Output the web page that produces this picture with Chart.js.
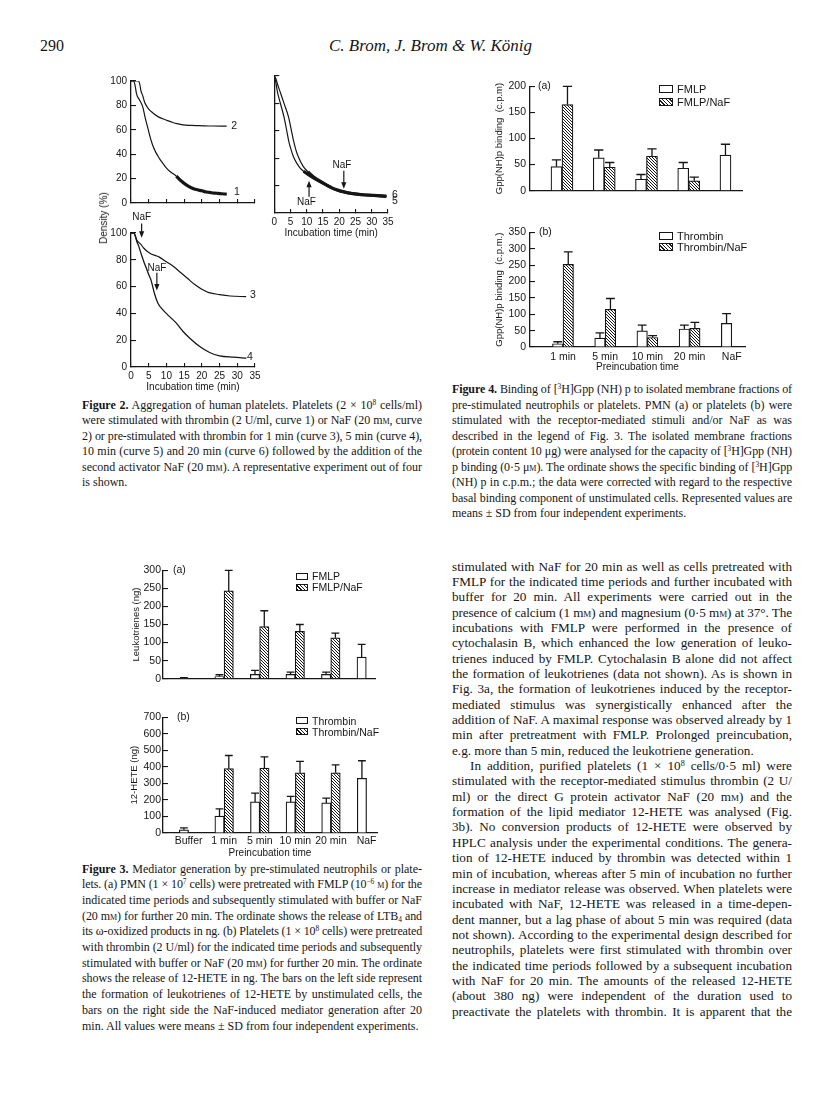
<!DOCTYPE html>
<html lang="en">
<head>
<meta charset="utf-8">
<title>Brom, Brom &amp; König, p. 290</title>
<script src="https://cdn.jsdelivr.net/npm/chart.js@4.4.1/dist/chart.umd.min.js"></script>
<style>
  html, body { margin: 0; padding: 0; background: #fff; }
  body { position: relative; width: 816px; height: 1115px; overflow: hidden; color: #161616;
         font-family: "Liberation Serif", "Times New Roman", serif; }
  canvas { position: absolute; }
  .ln { position: absolute; white-space: nowrap; text-align: justify; text-align-last: justify; }
  .ln.end { text-align-last: left; }
  .cap { font-size: 12px; line-height: 15px; }
  .txt { font-size: 13.2px; line-height: 15px; }
  sup { font-size: 0.62em; line-height: 0; vertical-align: 0.55em; }
  sub { font-size: 0.62em; line-height: 0; vertical-align: -0.25em; }
  .sc { font-variant: small-caps; }
  .lab { position: absolute; white-space: nowrap; line-height: 12px;
         font-family: "Liberation Sans", Arial, sans-serif; }
  .key { position: absolute; box-sizing: border-box; border: 1.2px solid #161616; background: #fff; }
  .key.h { background: repeating-linear-gradient(45deg, #161616 0 1px, #fff 1px 2.6px); }
</style>
</head>
<body>
<script>
"use strict";

// Figure 2 - aggregation traces, time (min) / density (%)
var timeC1 = [0, 0.7, 1.1, 1.6, 2.4, 3.3, 4, 4.7, 5.4, 6.1, 7, 8, 9, 9.9, 11, 12.8, 14.2, 15.6, 17, 18.4, 20, 21.3, 22.7, 24.1, 25.5, 27];
var densC1 = [100, 100, 97, 89, 84.5, 79, 70, 62, 54, 47.5, 41.5, 36.6, 32.5, 29, 25.8, 22, 18, 14.8, 12.5, 11, 10, 9, 8.4, 8, 7.6, 7.3];
var timeC2 = [0, 2.1, 2.5, 2.8, 3.3, 3.8, 4.3, 5, 6.1, 7.5, 9, 10.5, 11.8, 13, 14.7, 17, 19.4, 23, 27];
var densC2 = [100, 100, 97, 92, 88, 83, 80, 77, 74, 71, 69, 67.3, 66, 65, 64, 63.6, 63.4, 63.1, 63];
var timeC3 = [0, 0.8, 1.2, 1.6, 2.2, 2.8, 3.5, 5.2, 8, 10, 12, 14, 16, 18, 20, 22, 25, 28, 32.5];
var densC3 = [100, 100, 98, 95, 93, 91.5, 89, 85, 82, 78.5, 75, 70.5, 66, 61.5, 58, 55.5, 54, 53, 52.5];
var timeC4 = [0, 0.8, 1.2, 1.6, 2.2, 2.8, 3.5, 4.3, 5, 5.7, 6.6, 7.6, 9, 10.9, 12.8, 14.7, 16.6, 19.4, 22.2, 25, 28.9, 32.6];
var densC4 = [100, 100, 98, 94, 90, 85, 79.5, 74, 69, 64.5, 55, 47.6, 42.6, 37.6, 32.7, 26.5, 21.5, 15.3, 10.8, 8.3, 7.3, 6.6];
var timeC5 = [0, 0.5, 1, 2, 3, 4, 4.4, 5, 5.9, 7, 7.9, 9, 9.9, 11.8, 14.8, 18.7, 22.7, 26.6, 30.6, 34.5];
var densC5 = [100, 95, 88, 79, 70, 58, 53, 47.5, 41, 36, 33, 30.5, 29, 26, 22, 17.2, 14.6, 13.4, 12.7, 12.1];
var timeC6 = [0, 0.5, 1, 2, 3, 4.4, 5.2, 5.9, 6.6, 7.4, 8.9, 10.4, 12, 14.8, 18.7, 22.7, 26.6, 30.6, 34.5];
var densC6 = [100, 98, 94, 87, 80, 70, 61, 53, 46.5, 41, 34, 30, 26.5, 22.3, 17.4, 14.8, 13.6, 12.9, 12.4];

// Figure 4 - [3H]Gpp(NH)p binding (c.p.m.)
var fig4Pos = [1, 2, 3, 4, 5];
var fig4Labels = ["1 min", "5 min", "10 min", "20 min", "NaF"];
var fmlpBind = [46, 63, 22, 43, 68], fmlpBindSd = [13, 15, 9, 11, 21];
var fmlpNafBind = [165, 45, 66, 19, null], fmlpNafBindSd = [35, 9, 14, 7, null];
var thrBind = [10, 27, 49, 55, 72], thrBindSd = [6, 16, 18, 12, 30];
var thrNafBind = [252, 115, 29, 57, null], thrNafBindSd = [38, 33, 6, 18, null];

// Figure 3 - leukotrienes / 12-HETE (ng)
var fig3Pos = [0, 1, 2, 3, 4, 5];
var fig3Labels = ["Buffer", "1 min", "5 min", "10 min", "20 min", "NaF"];
var fmlpLt = [2, 6, 12, 12, 12, 60], fmlpLtSd = [1, 5, 11, 6, 6, 35];
var fmlpNafLt = [null, 243, 144, 131, 113, null], fmlpNafLtSd = [null, 57, 44, 19, 13, null];
var thrHete = [19, 102, 188, 188, 182, 331], thrHeteSd = [12, 44, 53, 34, 29, 106];
var thrNafHete = [null, 389, 393, 364, 364, null], thrNafHeteSd = [null, 80, 67, 69, 48, null];

var INK = "#161616";
var SANS = '"Liberation Sans", Arial, sans-serif';

document.addEventListener("DOMContentLoaded", function () {
  Chart.defaults.font.family = SANS;
  Chart.defaults.color = INK;
  Chart.defaults.animation = false;
  Chart.defaults.responsive = false;
  Chart.defaults.plugins.legend.display = false;
  Chart.defaults.plugins.tooltip.enabled = false;

  function pts(xs, ys, t0) {
    var out = [];
    xs.forEach(function (x, i) { if (t0 == null || x >= t0) out.push({ x: x, y: ys[i] }); });
    return out;
  }

  function frame(g) {
    var c = document.createElement("canvas");
    var w = g.x1 - g.x0 + g.padL + g.padR, h = g.yBot - g.yTop + g.padT + g.padB;
    c.width = w; c.height = h;
    c.style.left = (g.x0 - g.padL) + "px";
    c.style.top = (g.yTop - g.padT) + "px";
    document.body.appendChild(c);
    return c.getContext("2d");
  }

  var hp = document.createElement("canvas");
  hp.width = 3; hp.height = 3;
  var hg = hp.getContext("2d");
  hg.fillStyle = "#fff"; hg.fillRect(0, 0, 3, 3);
  hg.strokeStyle = INK; hg.lineWidth = 1;
  hg.beginPath(); hg.moveTo(-1, -1); hg.lineTo(4, 4); hg.stroke();
  var hatch = hg.createPattern(hp, "repeat");

  // in-chart texts and arrows, given in data units
  function notes(items) {
    return {
      id: "notes",
      afterDraw: function (chart) {
        var ctx = chart.ctx, sx = chart.scales.x, sy = chart.scales.y;
        items.forEach(function (n) {
          var x = sx.getPixelForValue(n.x);
          ctx.save();
          ctx.fillStyle = INK; ctx.strokeStyle = INK; ctx.lineWidth = 1.2;
          if (n.text) {
            ctx.font = (n.size || 10.5) + "px " + SANS;
            ctx.textAlign = n.align || "center";
            ctx.textBaseline = "middle";
            ctx.fillText(n.text, x, sy.getPixelForValue(n.y));
          }
          if (n.from != null) {
            var ax = sx.getPixelForValue(n.ax);
            var y1 = sy.getPixelForValue(n.from), y2 = sy.getPixelForValue(n.to), d = y2 > y1 ? 1 : -1;
            ctx.beginPath(); ctx.moveTo(ax, y1); ctx.lineTo(ax, y2 - d * 5); ctx.stroke();
            ctx.beginPath(); ctx.moveTo(ax, y2); ctx.lineTo(ax - 2.6, y2 - d * 6.5); ctx.lineTo(ax + 2.6, y2 - d * 6.5);
            ctx.closePath(); ctx.fill();
          }
          ctx.restore();
        });
      }
    };
  }

  var errBars = {
    id: "errBars",
    afterDatasetsDraw: function (chart) {
      var ctx = chart.ctx, sy = chart.scales.y;
      chart.data.datasets.forEach(function (ds, i) {
        if (!ds.sd) return;
        chart.getDatasetMeta(i).data.forEach(function (bar, j) {
          var v = ds.data[j].y, e = ds.sd[j];
          if (v == null || e == null) return;
          var top = sy.getPixelForValue(v + e), half = bar.width * 0.42;
          ctx.save();
          ctx.strokeStyle = INK; ctx.lineWidth = 1.3;
          ctx.beginPath();
          ctx.moveTo(bar.x, bar.y); ctx.lineTo(bar.x, top);
          ctx.moveTo(bar.x - half, top); ctx.lineTo(bar.x + half, top);
          ctx.stroke();
          ctx.restore();
        });
      });
    }
  };

  function yScale(g, o) {
    return {
      type: "linear", min: 0, max: o.max,
      afterFit: function (s) { s.width = g.padL; },
      border: { display: true, color: INK, width: 1.3 },
      grid: { drawOnChartArea: false, drawTicks: true, tickLength: -5, color: INK, lineWidth: 1.1 },
      ticks: { display: o.labels !== false, stepSize: o.step, padding: o.pad || 9, color: INK, font: { size: o.fs || 10.5 } },
      title: o.title ? { display: true, text: o.title, color: INK, padding: 0, font: { size: 9.5 } } : { display: false }
    };
  }

  function xTime(g, withLabels) {
    return {
      type: "linear", min: 0, max: 35,
      afterFit: function (s) { s.height = g.padB; },
      border: { display: true, color: INK, width: 1.3 },
      grid: { drawOnChartArea: false, drawTicks: true, tickLength: -4, color: INK, lineWidth: 1.1 },
      ticks: { display: withLabels, stepSize: 5, padding: 7.5, maxRotation: 0, color: INK, font: { size: 10 } },
      title: withLabels ? { display: true, text: "Incubation time (min)", color: INK, padding: 0, font: { size: 10 } } : { display: false }
    };
  }

  function xGroups(g, o) {
    return {
      type: "linear", min: o.min, max: o.max, offset: false,
      afterFit: function (s) { s.height = g.padB; },
      afterBuildTicks: function (s) { s.ticks = o.at.map(function (v) { return { value: v }; }); },
      border: { display: true, color: INK, width: 1.3 },
      grid: { display: false, drawTicks: false },
      ticks: {
        display: !!o.labels, autoSkip: false, maxRotation: 0, padding: o.pad || 3, color: INK, font: { size: 10.5 },
        callback: function (v, i) { return o.labels ? o.labels[i] : ""; }
      },
      title: o.labels ? { display: true, text: "Preincubation time", color: INK, padding: 0, font: { size: 10 } } : { display: false }
    };
  }

  function trace(xs, ys, w, t0) {
    return { data: pts(xs, ys, t0), borderColor: INK, borderWidth: w, pointRadius: 0, fill: false, cubicInterpolationMode: "monotone" };
  }

  function lineChart(g, sets, y, x, items) {
    return new Chart(frame(g), {
      type: "line",
      data: { datasets: sets },
      options: { layout: { padding: { left: 0, top: g.padT, right: g.padR, bottom: 0 } }, scales: { x: x, y: y } },
      plugins: [notes(items)]
    });
  }

  function bars(pos, vals, sd, hatched, w) {
    return { data: pts(pos, vals), sd: sd, backgroundColor: hatched ? hatch : "#fff", borderColor: INK, borderWidth: 1.2, barThickness: w };
  }

  function barChart(g, sets, y, x, items) {
    return new Chart(frame(g), {
      type: "bar",
      data: { datasets: sets },
      options: { layout: { padding: { left: 0, top: g.padT, right: g.padR, bottom: 0 } }, scales: { x: x, y: y } },
      plugins: [errBars, notes(items)]
    });
  }

  // ---- Figure 2 ----
  var gA = { x0: 131, x1: 255, yTop: 74, yBot: 212, padL: 24, padR: 18, padT: 8, padB: 6 };
  lineChart(gA, [trace(timeC1, densC1, 1.2), trace(timeC1, densC1, 3.2, 12.8), trace(timeC2, densC2, 1.2)],
    yScale(gA, { max: 100, step: 20, fs: 10 }), xTime(gA, false),
    [{ x: 29.1, y: 63.1, text: "2" }, { x: 29.9, y: 9.2, text: "1" }]);

  var gB = { x0: 131, x1: 255, yTop: 233, yBot: 367, padL: 24, padR: 16, padT: 28, padB: 26 };
  lineChart(gB, [trace(timeC3, densC3, 1.2), trace(timeC4, densC4, 1.3)],
    yScale(gB, { max: 100, step: 20, fs: 10 }), xTime(gB, true),
    [{ x: 34.4, y: 54, text: "3" }, { x: 33.6, y: 7.7, text: "4" },
     { x: 3.0, y: 111.4, text: "NaF", size: 10, ax: 3.0, from: 107, to: 96.5 },
     { x: 7.3, y: 74, text: "NaF", size: 10, ax: 7.3, from: 70.4, to: 57 }]);

  var gC = { x0: 270, x1: 388, yTop: 76, yBot: 213, padL: 6, padR: 18, padT: 8, padB: 26 };
  lineChart(gC, [trace(timeC5, densC5, 1.2), trace(timeC5, densC5, 3, 8), trace(timeC6, densC6, 1.2), trace(timeC6, densC6, 3, 9)],
    yScale(gC, { max: 100, step: 20, labels: false }), xTime(gC, true),
    [{ x: 37.1, y: 13.3, text: "6" }, { x: 37.1, y: 8.9, text: "5" },
     { x: 20.8, y: 35.2, text: "NaF", size: 10, ax: 21.4, from: 30.8, to: 17.7 },
     { x: 9.9, y: 8.2, text: "NaF", size: 10, ax: 10.7, from: 11.9, to: 23.5 }]);

  // ---- Figure 4 ----
  var g4a = { x0: 530, x1: 742, yTop: 79, yBot: 202, padL: 36, padR: 8, padT: 8, padB: 4 };
  barChart(g4a, [bars(fig4Pos, fmlpBind, fmlpBindSd, false, 11), bars(fig4Pos, fmlpNafBind, fmlpNafBindSd, true, 11)],
    yScale(g4a, { max: 200, step: 50, title: "Gpp(NH)p binding  (c.p.m)" }),
    xGroups(g4a, { min: 0.243, max: 5.261, at: fig4Pos }),
    [{ x: 0.432, y: 200, text: "(a)", align: "left" }]);

  var g4b = { x0: 530, x1: 745, yTop: 225, yBot: 347, padL: 36, padR: 8, padT: 8, padB: 26 };
  barChart(g4b, [bars(fig4Pos, thrBind, thrBindSd, false, 10.5), bars(fig4Pos, thrNafBind, thrNafBindSd, true, 10.5)],
    yScale(g4b, { max: 350, step: 50, title: "Gpp(NH)p binding  (c.p.m.)" }),
    xGroups(g4b, { min: 0.218, max: 5.313, at: fig4Pos, labels: fig4Labels, pad: 4 }),
    [{ x: 0.431, y: 350, text: "(b)", align: "left" }]);

  // ---- Figure 3 ----
  var g3a = { x0: 163, x1: 375, yTop: 565, yBot: 688, padL: 32, padR: 8, padT: 8, padB: 4 };
  barChart(g3a, [bars(fig3Pos, fmlpLt, fmlpLtSd, false, 9.3), bars(fig3Pos, fmlpNafLt, fmlpNafLtSd, true, 9.3)],
    yScale(g3a, { max: 300, step: 50, pad: 7, title: "Leukotrienes (ng)" }),
    xGroups(g3a, { min: -0.718, max: 5.245, at: fig3Pos }),
    [{ x: -0.436, y: 300, text: "(a)", align: "left" }]);

  var g3b = { x0: 163, x1: 377, yTop: 712, yBot: 833, padL: 34, padR: 8, padT: 8, padB: 26 };
  barChart(g3b, [bars(fig3Pos, thrHete, thrHeteSd, false, 9.3), bars(fig3Pos, thrNafHete, thrNafHeteSd, true, 9.3)],
    yScale(g3b, { max: 700, step: 100, pad: 7, title: "12-HETE (ng)" }),
    xGroups(g3b, { min: -0.718, max: 5.293, at: fig3Pos, labels: fig3Labels, pad: 2 }),
    [{ x: -0.324, y: 700, text: "(b)", align: "left" }]);

  // ---- html labels, legends and text ----
  function label(html, x, y, fs, how) {
    var d = document.createElement("div");
    d.className = "lab";
    d.style.fontSize = fs + "px";
    d.style.left = x + "px";
    d.style.top = (y - 6) + "px";
    if (how === "rot") { d.style.top = y + "px"; d.style.transform = "translate(-50%,-50%) rotate(-90deg)"; }
    d.innerHTML = html;
    document.body.appendChild(d);
  }
  function key(x, y, w, h, hatched, text, fs) {
    var b = document.createElement("div");
    b.className = "key" + (hatched ? " h" : "");
    b.style.left = x + "px"; b.style.top = (y - h / 2) + "px";
    b.style.width = w + "px"; b.style.height = h + "px";
    document.body.appendChild(b);
    label(text, x + w + 4, y, fs);
  }
  label("Density (%)", 104, 218, 10, "rot");
  key(659, 89, 14, 8, false, "FMLP", 11);
  key(659, 102, 14, 8, true, "FMLP/NaF", 11);
  key(659, 235.5, 14, 8, false, "Thrombin", 11);
  key(659, 246.5, 14, 8, true, "Thrombin/NaF", 11);
  key(296, 576, 12, 7, false, "FMLP", 10.5);
  key(296, 587, 12, 7, true, "FMLP/NaF", 10.5);
  key(296, 720.5, 12, 7, false, "Thrombin", 10.5);
  key(296, 731.5, 12, 7, true, "Thrombin/NaF", 10.5);

  function lines(list, left, width, c0, step, cls) {
    list.forEach(function (s, i) {
      var d = document.createElement("div");
      var end = s.slice(-1) === "|";
      if (end) s = s.slice(0, -1);
      if (s.charAt(0) === ">") { s = s.slice(1); d.style.textIndent = "18px"; }
      d.className = "ln " + cls + (end ? " end" : "");
      d.style.left = left + "px";
      d.style.width = width + "px";
      d.style.top = (c0 + step * i - 7.5) + "px";
      d.innerHTML = s;
      document.body.appendChild(d);
    });
  }

  var head = document.createElement("div");
  head.className = "ln end";
  head.style.cssText = "left:40px;top:37px;font-size:16px;line-height:18px;";
  head.textContent = "290";
  document.body.appendChild(head);
  var auth = document.createElement("div");
  auth.className = "ln end";
  auth.style.cssText = "left:329px;top:37px;font-size:17px;line-height:18px;font-style:italic;";
  auth.innerHTML = "C. Brom, J. Brom &amp; W. König";
  document.body.appendChild(auth);

  var mm = "m<span class=\"sc\">m</span>";
  lines([
    "<b>Figure 2.</b> Aggregation of human platelets. Platelets (2 × 10<sup>8</sup> cells/ml)",
    "were stimulated with thrombin (2 U/ml, curve 1) or NaF (20 " + mm + ", curve",
    "2) or pre-stimulated with thrombin for 1 min (curve 3), 5 min (curve 4),",
    "10 min (curve 5) and 20 min (curve 6) followed by the addition of the",
    "second activator NaF (20 " + mm + "). A representative experiment out of four",
    "is shown.|"
  ], 82, 340, 405, 15.5, "cap");

  lines([
    "<b>Figure 4.</b> Binding of [<sup>3</sup>H]Gpp (NH) p to isolated membrane fractions of",
    "pre-stimulated neutrophils or platelets. PMN (a) or platelets (b) were",
    "stimulated with the receptor-mediated stimuli and/or NaF as was",
    "described in the legend of Fig. 3. The isolated membrane fractions",
    "(protein content 10 μg) were analysed for the capacity of [<sup>3</sup>H]Gpp (NH)",
    "p binding (0·5 μ<span class=\"sc\">m</span>). The ordinate shows the specific binding of [<sup>3</sup>H]Gpp",
    "(NH) p in c.p.m.; the data were corrected with regard to the respective",
    "basal binding component of unstimulated cells. Represented values are",
    "means ± SD from four independent experiments.|"
  ], 452, 340, 389.5, 15.5, "cap");

  lines([
    "<b>Figure 3.</b> Mediator generation by pre-stimulated neutrophils or plate-",
    "lets. (a) PMN (1 × 10<sup>7</sup> cells) were pretreated with FMLP (10<sup>−6</sup> <span class=\"sc\">m</span>) for the",
    "indicated time periods and subsequently stimulated with buffer or NaF",
    "(20 " + mm + ") for further 20 min. The ordinate shows the release of LTB<sub>4</sub> and",
    "its ω-oxidized products in ng. (b) Platelets (1 × 10<sup>8</sup> cells) were pretreated",
    "with thrombin (2 U/ml) for the indicated time periods and subsequently",
    "stimulated with buffer or NaF (20 " + mm + ") for further 20 min. The ordinate",
    "shows the release of 12-HETE in ng. The bars on the left side represent",
    "the formation of leukotrienes of 12-HETE by unstimulated cells, the",
    "bars on the right side the NaF-induced mediator generation after 20",
    "min. All values were means ± SD from four independent experiments.|"
  ], 82, 340, 869, 15.7, "cap");

  lines([
    "stimulated with NaF for 20 min as well as cells pretreated with",
    "FMLP for the indicated time periods and further incubated with",
    "buffer for 20 min. All experiments were carried out in the",
    "presence of calcium (1 " + mm + ") and magnesium (0·5 " + mm + ") at 37°. The",
    "incubations with FMLP were performed in the presence of",
    "cytochalasin B, which enhanced the low generation of leuko-",
    "trienes induced by FMLP. Cytochalasin B alone did not affect",
    "the formation of leukotrienes (data not shown). As is shown in",
    "Fig. 3a, the formation of leukotrienes induced by the receptor-",
    "mediated stimulus was synergistically enhanced after the",
    "addition of NaF. A maximal response was observed already by 1",
    "min after pretreatment with FMLP. Prolonged preincubation,",
    "e.g. more than 5 min, reduced the leukotriene generation.|",
    ">In addition, purified platelets (1 × 10<sup>8</sup> cells/0·5 ml) were",
    "stimulated with the receptor-mediated stimulus thrombin (2 U/",
    "ml) or the direct G protein activator NaF (20 " + mm + ") and the",
    "formation of the lipid mediator 12-HETE was analysed (Fig.",
    "3b). No conversion products of 12-HETE were observed by",
    "HPLC analysis under the experimental conditions. The genera-",
    "tion of 12-HETE induced by thrombin was detected within 1",
    "min of incubation, whereas after 5 min of incubation no further",
    "increase in mediator release was observed. When platelets were",
    "incubated with NaF, 12-HETE was released in a time-depen-",
    "dent manner, but a lag phase of about 5 min was required (data",
    "not shown). According to the experimental design described for",
    "neutrophils, platelets were first stimulated with thrombin over",
    "the indicated time periods followed by a subsequent incubation",
    "with NaF for 20 min. The amounts of the released 12-HETE",
    "(about 380 ng) were independent of the duration used to",
    "preactivate the platelets with thrombin. It is apparent that the"
  ], 452, 340, 566, 15.35, "txt");

  // squeeze any line that does not fit its column
  document.querySelectorAll(".ln").forEach(function (d) {
    var ls = 0;
    while (d.scrollWidth > d.clientWidth + 0.5 && ls > -1.2) {
      ls -= 0.05;
      d.style.letterSpacing = ls + "px";
    }
  });
});
</script>
</body>
</html>
